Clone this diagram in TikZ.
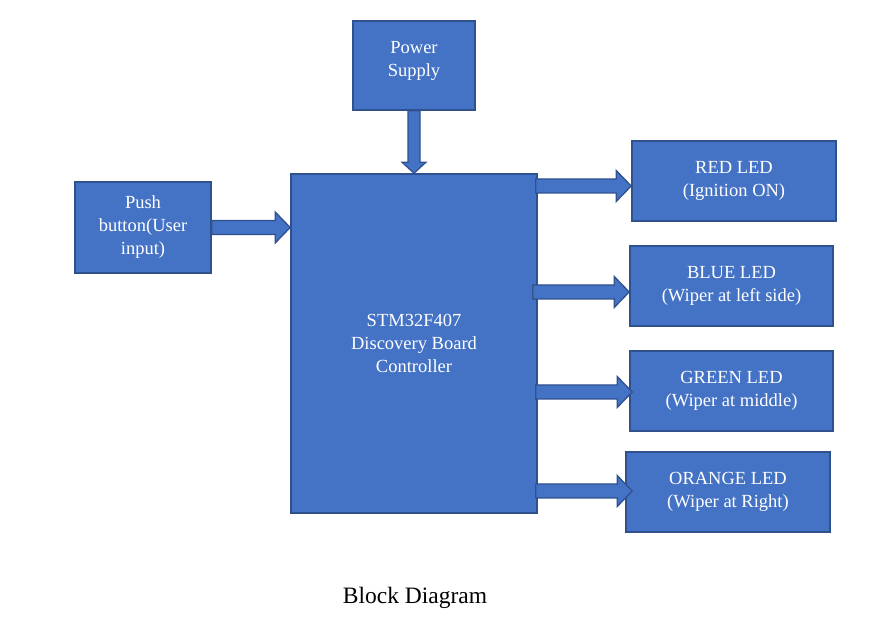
\documentclass[tikz,border=0pt]{standalone}
\usepackage{fontspec}
\setmainfont{Liberation Serif}
\usetikzlibrary{calc}
\definecolor{boxblue}{HTML}{4472C4}
\definecolor{boxedge}{HTML}{2F528F}
\tikzset{
	block/.style={draw=boxedge, line width=1.6pt, fill=boxblue, text=white, align=center, inner sep=2pt, font=\fontsize{18.5}{23}\selectfont},
	fatarrow/.style={draw=boxedge, line width=1.3pt, fill=boxblue, line join=miter}
}
% block arrow, left to right
\newcommand\harrow[2]{%
	\draw[fatarrow] let \p1=(#1), \p2=(#2) in
		(\x1,\y1+7pt) -- (\x2-15pt,\y1+7pt) -- (\x2-15pt,\y1+15.5pt) -- (\x2,\y1)
		-- (\x2-15pt,\y1-15.5pt) -- (\x2-15pt,\y1-7pt) -- (\x1,\y1-7pt) -- cycle;}
% block arrow, top to bottom
\newcommand\varrow[2]{%
	\draw[fatarrow] let \p1=(#1), \p2=(#2) in
		(\x1-6pt,\y1) -- (\x1-6pt,\y2+11pt) -- (\x1-12pt,\y2+11pt) -- (\x1,\y2)
		-- (\x1+12pt,\y2+11pt) -- (\x1+6pt,\y2+11pt) -- (\x1+6pt,\y1) -- cycle;}
\begin{document}
\begin{tikzpicture}[x=1pt,y=1pt]
				\useasboundingbox (0,0) rectangle (875,628);

				\node[block, minimum width=246pt, minimum height=339pt] (main) at (414,284.5) {STM32F407\\Discovery Board\\Controller};
				\node[block, minimum width=122pt, minimum height=89pt] (power) at (414,562.5) {Power\\Supply\\[-9pt]};
				\node[block, minimum width=136pt, minimum height=91pt] (push) at (143,400.5) {Push\\button(User\\input)};
				\node[block, minimum width=204pt, minimum height=80pt] (red) at (734,447) {RED LED\\(Ignition ON)};
				\node[block, minimum width=203pt, minimum height=80pt] (blue) at (731.5,342) {BLUE LED\\(Wiper at left side)};
				\node[block, minimum width=203pt, minimum height=80pt] (green) at (731.5,237) {GREEN LED\\(Wiper at middle)};
				\node[block, minimum width=204pt, minimum height=80pt] (orange) at (728,136) {ORANGE LED\\(Wiper at Right)};

				\coordinate (redin) at ([yshift=-5pt]red.west);
				\coordinate (bluein) at ([yshift=-6pt]blue.west);
				\coordinate (greenin) at ([shift={(3pt,-1pt)}]green.west);
				\coordinate (orangein) at ([shift={(7pt,1pt)}]orange.west);
				\coordinate (redout) at ([xshift=-2pt]main.east |- redin);
				\coordinate (blueout) at ([xshift=-5pt]main.east |- bluein);
				\coordinate (greenout) at ([xshift=-2pt]main.east |- greenin);
				\coordinate (orangeout) at ([xshift=-2pt]main.east |- orangein);

				\varrow{power.south}{main.north -| power.south}
				\harrow{push.east}{main.west |- push.east}
				\harrow{redout}{redin}
				\harrow{blueout}{bluein}
				\harrow{greenout}{greenin}
				\harrow{orangeout}{orangein}

				\node[font=\fontsize{23.5}{28}\selectfont] (caption) at (415,30) {Block Diagram};
			\end{tikzpicture}
\end{document}
